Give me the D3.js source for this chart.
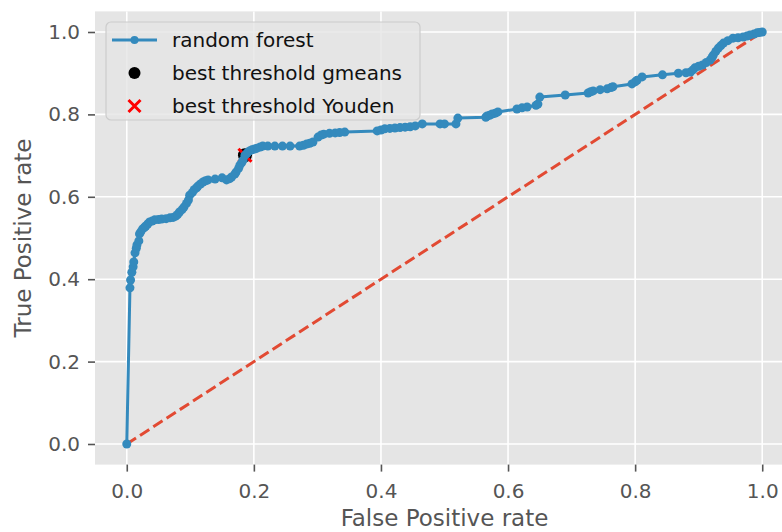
<!DOCTYPE html>
<html>
<head>
<meta charset="utf-8">
<script src="https://cdn.jsdelivr.net/npm/d3@7"></script>
<style>
  body { margin: 0; background: #fff; }
  svg { display: block; }
  text { font-family: "DejaVu Sans", sans-serif; }
</style>
</head>
<body>
<div id="chart"></div>
<script>
/*** dados da curva ROC ***/
var fpr = [0.000, 0.005, 0.006, 0.008, 0.010, 0.011, 0.013, 0.015, 0.016, 0.019,
    0.020, 0.022, 0.025, 0.028, 0.030, 0.033, 0.036, 0.040, 0.044, 0.050,
    0.055, 0.062, 0.068, 0.073, 0.077, 0.080, 0.083, 0.087, 0.090, 0.094,
    0.097, 0.099, 0.103, 0.106, 0.110, 0.112, 0.116, 0.120, 0.124, 0.128,
    0.139, 0.150, 0.157, 0.162, 0.165, 0.170, 0.172, 0.176, 0.178, 0.181,
    0.183, 0.186, 0.189, 0.191, 0.194, 0.197, 0.201, 0.205, 0.210, 0.214,
    0.222, 0.233, 0.245, 0.257, 0.272, 0.278, 0.283, 0.288, 0.293, 0.301,
    0.306, 0.310, 0.319, 0.328, 0.335, 0.343, 0.394, 0.400, 0.406, 0.414,
    0.422, 0.430, 0.438, 0.446, 0.454, 0.465, 0.493, 0.500, 0.518, 0.521,
    0.565, 0.567, 0.571, 0.575, 0.580, 0.584, 0.614, 0.622, 0.630, 0.644,
    0.647, 0.650, 0.690, 0.726, 0.730, 0.734, 0.745, 0.756, 0.762, 0.765,
    0.795, 0.800, 0.803, 0.811, 0.843, 0.868, 0.880, 0.887, 0.891, 0.894,
    0.900, 0.906, 0.912, 0.918, 0.921, 0.923, 0.927, 0.931, 0.935, 0.939,
    0.946, 0.954, 0.962, 0.970, 0.976, 0.981, 0.987, 0.992, 0.996, 1.000];
var tpr = [0.000, 0.379, 0.398, 0.417, 0.430, 0.442, 0.464, 0.475, 0.483, 0.493,
    0.510, 0.515, 0.522, 0.526, 0.529, 0.534, 0.539, 0.541, 0.544, 0.545,
    0.546, 0.547, 0.549, 0.550, 0.553, 0.557, 0.563, 0.569, 0.575, 0.584,
    0.592, 0.604, 0.610, 0.617, 0.622, 0.626, 0.631, 0.636, 0.639, 0.641,
    0.643, 0.646, 0.641, 0.644, 0.648, 0.655, 0.660, 0.669, 0.677, 0.683,
    0.689, 0.701, 0.705, 0.709, 0.712, 0.714, 0.716, 0.718, 0.721, 0.723,
    0.723, 0.723, 0.723, 0.723, 0.723, 0.725, 0.728, 0.730, 0.733, 0.745,
    0.750, 0.752, 0.754, 0.755, 0.756, 0.757, 0.760, 0.762, 0.765, 0.766,
    0.767, 0.768, 0.769, 0.770, 0.772, 0.777, 0.777, 0.777, 0.777, 0.791,
    0.793, 0.796, 0.798, 0.801, 0.803, 0.806, 0.813, 0.816, 0.818, 0.822,
    0.825, 0.842, 0.847, 0.852, 0.855, 0.857, 0.860, 0.862, 0.865, 0.867,
    0.874, 0.879, 0.883, 0.891, 0.896, 0.900, 0.901, 0.903, 0.908, 0.913,
    0.917, 0.920, 0.926, 0.932, 0.938, 0.944, 0.953, 0.961, 0.967, 0.973,
    0.979, 0.985, 0.986, 0.988, 0.990, 0.993, 0.995, 0.998, 0.999, 1.000];

var bestGmeans = [0.186, 0.701];
var bestYouden = [0.186, 0.701];
var noSkill = [[0, 0], [1, 1]];

var xTicks = [0, 0.2, 0.4, 0.6, 0.8, 1.0];
var yTicks = [0, 0.2, 0.4, 0.6, 0.8, 1.0];
var legendLabels = ["random forest", "best threshold gmeans", "best threshold Youden"];

var width = 782;
var height = 532;

// area do grafico (a direita sai fora da imagem, como no original)
var pLeft = 95, pRight = 794, pTop = 11.4, pBottom = 464.6;

var x = d3.scaleLinear().domain([-0.05, 1.05]).range([pLeft, pRight]);
var y = d3.scaleLinear().domain([-0.05, 1.05]).range([pBottom, pTop]);

var svg = d3.select('#chart').append('svg')
    .attr('width', width)
    .attr('height', height);

svg.append('defs').append('clipPath')
    .attr('id', 'clip')
    .append('rect')
    .attr('x', pLeft).attr('y', pTop)
    .attr('width', pRight - pLeft).attr('height', pBottom - pTop);

svg.append('rect')
    .attr('x', pLeft).attr('y', pTop)
    .attr('width', pRight - pLeft).attr('height', pBottom - pTop)
    .attr('fill', '#E5E5E5');

// grelha branca
svg.append('g')
    .selectAll('line')
    .data(xTicks)
    .enter()
    .append('line')
    .attr('x1', d => x(d)).attr('x2', d => x(d))
    .attr('y1', pTop).attr('y2', pBottom)
    .attr('stroke', '#fff').attr('stroke-width', 1.6);

svg.append('g')
    .selectAll('line')
    .data(yTicks)
    .enter()
    .append('line')
    .attr('y1', d => y(d)).attr('y2', d => y(d))
    .attr('x1', pLeft).attr('x2', pRight)
    .attr('stroke', '#fff').attr('stroke-width', 1.6);

// eixos
var xAxis = svg.append('g')
    .attr('transform', 'translate(0,' + pBottom + ')')
    .call(d3.axisBottom(x).tickValues(xTicks).tickFormat(d3.format('.1f')).tickSize(7).tickPadding(12));
var yAxis = svg.append('g')
    .attr('transform', 'translate(' + pLeft + ',0)')
    .call(d3.axisLeft(y).tickValues(yTicks).tickFormat(d3.format('.1f')).tickSize(7).tickPadding(8));

[xAxis, yAxis].forEach(function (ax) {
    ax.select('.domain').remove();
    ax.selectAll('line').attr('stroke', '#555555').attr('stroke-width', 1.6);
    ax.selectAll('text')
        .attr('fill', '#555555')
        .style('font-size', '20px')
        .style('font-family', '"DejaVu Sans", sans-serif');
});

svg.append('text')
    .attr('x', (pLeft + pRight) / 2)
    .attr('y', 526)
    .attr('text-anchor', 'middle')
    .attr('fill', '#555555')
    .style('font-size', '23px')
    .text('False Positive rate');

svg.append('text')
    .attr('transform', 'translate(31,' + (pTop + pBottom) / 2 + ') rotate(-90)')
    .attr('text-anchor', 'middle')
    .attr('fill', '#555555')
    .style('font-size', '23px')
    .text('True Positive rate');

var plot = svg.append('g').attr('clip-path', 'url(#clip)');

// linha tracejada (sem skill)
plot.append('path')
    .datum(noSkill)
    .attr('d', d3.line().x(d => x(d[0])).y(d => y(d[1])))
    .attr('fill', 'none')
    .attr('stroke', '#E24A33')
    .attr('stroke-width', 3)
    .attr('stroke-dasharray', '11,4.8');

// scatter fica por baixo da linha (zorder do matplotlib)
plot.append('circle')
    .attr('cx', x(bestGmeans[0]))
    .attr('cy', y(bestGmeans[1]))
    .attr('r', 7)
    .attr('fill', '#000');

function cross(g, cx, cy, s) {
    g.append('path')
        .attr('d', 'M' + (cx - s) + ',' + (cy - s) + 'L' + (cx + s) + ',' + (cy + s) +
            'M' + (cx - s) + ',' + (cy + s) + 'L' + (cx + s) + ',' + (cy - s))
        .attr('stroke', 'red')
        .attr('stroke-width', 3)
        .attr('fill', 'none');
}
cross(plot, x(bestYouden[0]), y(bestYouden[1]), 6.5);

var rocData = fpr.map((f, i) => [f, tpr[i]]);

plot.append('path')
    .datum(rocData)
    .attr('d', d3.line().x(d => x(d[0])).y(d => y(d[1])))
    .attr('fill', 'none')
    .attr('stroke', '#348ABD')
    .attr('stroke-width', 3)
    .attr('stroke-linejoin', 'round');

plot.append('g')
    .selectAll('circle')
    .data(rocData)
    .enter()
    .append('circle')
    .attr('cx', d => x(d[0]))
    .attr('cy', d => y(d[1]))
    .attr('r', 4.5)
    .attr('fill', '#348ABD');

/*** legenda ***/
var leg = svg.append('g');
leg.append('rect')
    .attr('x', 106).attr('y', 22)
    .attr('width', 314).attr('height', 98)
    .attr('rx', 5)
    .attr('fill', '#E5E5E5')
    .attr('fill-opacity', 0.8)
    .attr('stroke', '#CCCCCC')
    .attr('stroke-width', 1.2);

var rowsY = [40, 73, 106];

leg.append('line')
    .attr('x1', 112).attr('x2', 157)
    .attr('y1', rowsY[0]).attr('y2', rowsY[0])
    .attr('stroke', '#348ABD').attr('stroke-width', 3);
leg.append('circle')
    .attr('cx', 134.5).attr('cy', rowsY[0]).attr('r', 4)
    .attr('fill', '#348ABD');
leg.append('circle')
    .attr('cx', 134.5).attr('cy', rowsY[1]).attr('r', 6)
    .attr('fill', '#000');
cross(leg, 134.5, rowsY[2], 6);

leg.selectAll('text.lab')
    .data(legendLabels)
    .enter()
    .append('text')
    .attr('class', 'lab')
    .attr('x', 172)
    .attr('y', (d, i) => rowsY[i] + 7)
    .attr('fill', '#111')
    .style('font-size', '20px')
    .text(d => d);
</script>
</body>
</html>
